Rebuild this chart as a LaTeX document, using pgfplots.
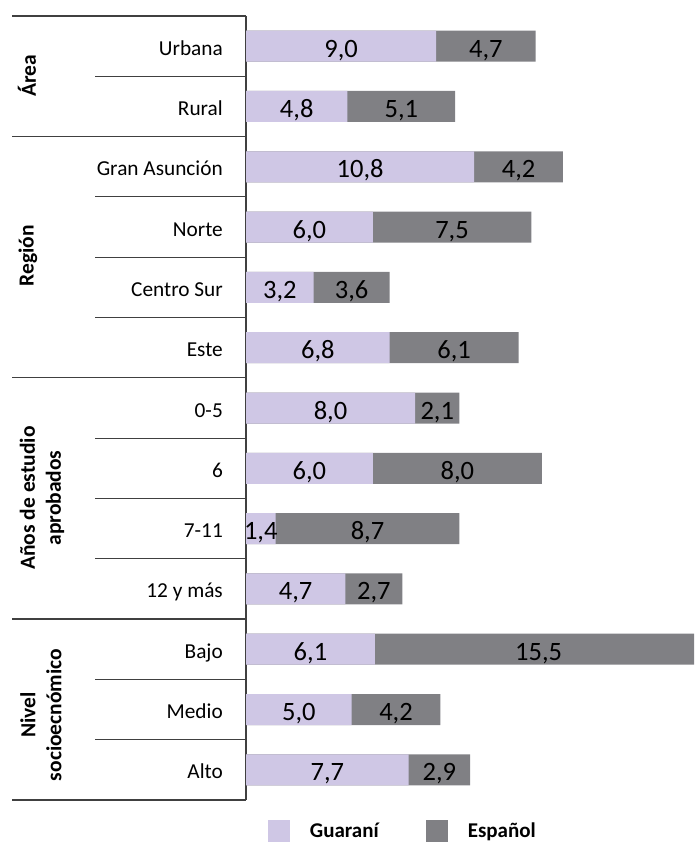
\documentclass[border=0pt]{standalone}
\usepackage{fontspec}
\setmainfont{Carlito}
\usepackage{pgfplots}
\usepackage{pgfplotstable}
\pgfplotsset{compat=1.18}
\definecolor{guarani}{RGB}{207,199,229}
\definecolor{espanol}{RGB}{128,128,132}
\definecolor{lin}{RGB}{64,64,64}

\pgfplotstableread{
y g e
0 9.0 4.7
1 4.8 5.1
2 10.8 4.2
3 6.0 7.5
4 3.2 3.6
5 6.8 6.1
6 8.0 2.1
7 6.0 8.0
8 1.4 8.7
9 4.7 2.7
10 6.1 15.5
11 5.0 4.2
12 7.7 2.9
}\datatable

\begin{document}
\begin{tikzpicture}
\clip (0pt,0pt) rectangle (694pt,842pt);
\begin{axis}[
  at={(246pt,42pt)}, anchor=south west,
  scale only axis, width=448pt, height=784pt,
  xmin=0, xmax=21.2, ymin=-0.5, ymax=12.5, y dir=reverse,
  axis x line=none, axis y line*=left,
  y axis line style={lin, line width=1.2pt},
  ytick={0,...,12},
  yticklabels={Urbana,Rural,Gran Asunción,Norte,Centro Sur,Este,0-5,6,7-11,12 y más,Bajo,Medio,Alto},
  major tick length=0pt,
  yticklabel style={font=\fontsize{21.3}{25}\selectfont, inner sep=0pt, anchor=base east, xshift=-23pt, yshift=-9pt},
  clip=false,
  bar width=31pt,
  legend style={at={(axis description cs:0.049,-0.0395)}, anchor=west, draw=none, fill=none,
    inner sep=0pt, outer sep=0pt, legend columns=2,
    font=\bfseries\fontsize{21}{25}\selectfont,
    nodes={inner sep=0pt},
    /tikz/every odd column/.style={column sep=20pt},
    /tikz/every even column/.style={column sep=47pt}},
  legend image code/.code={\fill[#1] (0pt,-11pt) rectangle (22pt,11pt);},
]
\addplot[xbar, bar shift=0pt, fill=espanol, draw=none, forget plot]
  table[x expr=\thisrow{g}+\thisrow{e}, y=y] {\datatable};
\addplot[xbar, bar shift=0pt, fill=guarani, draw=none, forget plot]
  table[x=g, y=y] {\datatable};
\addplot[draw=none, mark=none, forget plot, point meta=explicit,
  nodes near coords={\pgfmathprintnumber[fixed,fixed zerofill,precision=1,use comma,assume math mode=true]{\pgfplotspointmeta}},
  every node near coord/.style={anchor=base, yshift=-11pt, inner sep=0pt, font=\fontsize{26.5}{31}\selectfont}]
  table[x expr=\thisrow{g}/2, y=y, meta=g] {\datatable};
\addplot[draw=none, mark=none, forget plot, point meta=explicit,
  nodes near coords={\pgfmathprintnumber[fixed,fixed zerofill,precision=1,use comma,assume math mode=true]{\pgfplotspointmeta}},
  every node near coord/.style={anchor=base, yshift=-11pt, inner sep=0pt, font=\fontsize{26.5}{31}\selectfont}]
  table[x expr=\thisrow{g}+\thisrow{e}/2, y=y, meta=e] {\datatable};
\addlegendimage{fill=guarani, draw=none}
\addlegendentry{Guaraní}
\addlegendimage{fill=espanol, draw=none}
\addlegendentry{Español}
\end{axis}
% separators
\begin{scope}[lin, line width=1.2pt]
\foreach \yy in {826,705.4,464.1,222.9,42} {\draw (12pt,\yy pt) -- (246pt,\yy pt);}
\foreach \yy in {765.7,645.1,584.8,524.5,403.8,343.5,283.2,162.6,102.3} {\draw (95pt,\yy pt) -- (246pt,\yy pt);}
\end{scope}
\begin{scope}[every node/.style={rotate=90, align=center, inner sep=0pt, font=\bfseries\fontsize{21.5}{26}\selectfont}]
\node at (27pt,766pt) {Área};
\node at (28pt,586pt) {Región};
\node at (42pt,344pt) {Años de estudio\\aprobados};
\node at (41pt,127pt) {Nivel\\socioecnómico};
\end{scope}
\end{tikzpicture}
\end{document}
